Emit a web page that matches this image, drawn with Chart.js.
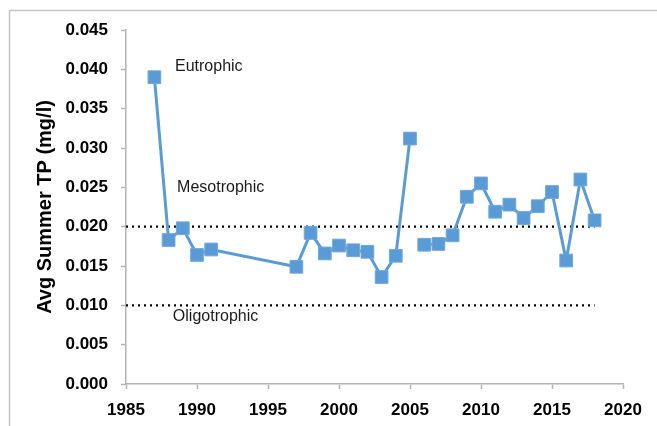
<!DOCTYPE html>
<html>
<head>
<meta charset="utf-8">
<script src="https://cdn.jsdelivr.net/npm/chart.js@4/dist/chart.umd.min.js"></script>
<style>
  html, body { margin: 0; padding: 0; background: #fff; }
  #wrap { width: 657px; height: 426px; }
</style>
</head>
<body>
<div id="wrap"><canvas id="tpChart" width="657" height="426"></canvas></div>
<script>
// summer averages, no sampling 1992-1996; line broken after 2005
const years = [1987, 1988, 1989, 1990, 1991, 1997, 1998, 1999, 2000, 2001, 2002, 2003, 2004, 2005,
               2006, 2007, 2008, 2009, 2010, 2011, 2012, 2013, 2014, 2015, 2016, 2017, 2018];
const avgTP = [0.0390, 0.0183, 0.0198, 0.0164, 0.0171, 0.0149, 0.0192, 0.0166, 0.0176, 0.0170, 0.0168, 0.0136, 0.0163, 0.0312,
               0.0177, 0.0178, 0.0189, 0.0238, 0.0255, 0.0219, 0.0228, 0.0211, 0.0226, 0.0244, 0.0157, 0.0260, 0.0208];
const gapAfter = 2005;

const thresholds = [0.020, 0.010];
const thresholdSpan = [1985, 2018];

const zoneLabels = [
    { text: 'Eutrophic', x: 1988.45, y: 0.0403 },
    { text: 'Mesotrophic', x: 1988.6, y: 0.0250 },
    { text: 'Oligotrophic', x: 1988.3, y: 0.0086 }
];

const xTicks = [1985, 1990, 1995, 2000, 2005, 2010, 2015, 2020];
const yTicks = [0, 0.005, 0.010, 0.015, 0.020, 0.025, 0.030, 0.035, 0.040, 0.045];

const axisGray = '#b3b3b3';
const blue = '#5b9bd5';

const frame = {
    id: 'frame',
    beforeDraw(chart) {
        const ctx = chart.ctx;
        ctx.save();
        ctx.strokeStyle = '#c4c4c4';
        ctx.lineWidth = 1.5;
        ctx.strokeRect(9.5, 10.5, 800, 600);
        ctx.restore();
    }
};

const zoneText = {
    id: 'zoneText',
    afterDatasetsDraw(chart) {
        const { ctx, scales: { x, y } } = chart;
        ctx.save();
        ctx.font = '16px "Liberation Sans", Arial, sans-serif';
        ctx.fillStyle = '#1a1a1a';
        ctx.textAlign = 'left';
        ctx.textBaseline = 'middle';
        zoneLabels.forEach(l => ctx.fillText(l.text, x.getPixelForValue(l.x), y.getPixelForValue(l.y)));
        ctx.restore();
    }
};

const thresholdSets = thresholds.map(v => ({
    data: thresholdSpan.map(yr => ({ x: yr, y: v })),
    borderColor: '#000',
    borderWidth: 2.2,
    borderDash: [2, 4],
    pointRadius: 0,
    order: 2
}));

new Chart(document.getElementById('tpChart'), {
    type: 'line',
    data: {
        datasets: [
            {
                data: years.map((yr, i) => ({ x: yr, y: avgTP[i] })),
                borderColor: blue,
                backgroundColor: blue,
                borderWidth: 3,
                pointStyle: 'rect',
                pointRadius: 9,
                pointBorderColor: '#6fa8dc',
                pointBorderWidth: 1,
                segment: {
                    borderColor: ctx => ctx.p0.parsed.x === gapAfter ? 'transparent' : undefined
                },
                order: 1
            },
            ...thresholdSets
        ]
    },
    options: {
        responsive: false,
        animation: false,
        layout: { padding: { top: 30, right: 34, left: 0, bottom: 0 } },
        plugins: { legend: { display: false }, tooltip: { enabled: false } },
        scales: {
            x: {
                type: 'linear',
                min: 1985,
                max: 2020,
                afterBuildTicks: s => { s.ticks = xTicks.map(v => ({ value: v })); },
                afterFit: s => { s.height = 42; },
                border: { color: axisGray, width: 1.5 },
                grid: { drawOnChartArea: false, tickLength: 5, color: axisGray, tickWidth: 1.5 },
                ticks: {
                    padding: 11,
                    color: '#000',
                    font: { family: '"Liberation Sans", Arial, sans-serif', size: 17, weight: 'bold' },
                    callback: v => String(v)
                }
            },
            y: {
                min: 0,
                max: 0.045,
                afterBuildTicks: s => { s.ticks = yTicks.map(v => ({ value: v })); },
                afterFit: s => { s.width = 126; },
                border: { color: axisGray, width: 1.5 },
                grid: { drawOnChartArea: false, tickLength: 5, color: axisGray, tickWidth: 1.5 },
                title: {
                    display: true,
                    text: 'Avg Summer TP (mg/l)',
                    color: '#000',
                    padding: { top: 33, bottom: 0 },
                    font: { family: '"Liberation Sans", Arial, sans-serif', size: 20, weight: 'bold' }
                },
                ticks: {
                    padding: 13,
                    color: '#000',
                    font: { family: '"Liberation Sans", Arial, sans-serif', size: 17, weight: 'bold' },
                    callback: v => v.toFixed(3)
                }
            }
        }
    },
    plugins: [frame, zoneText]
});
</script>
</body>
</html>
